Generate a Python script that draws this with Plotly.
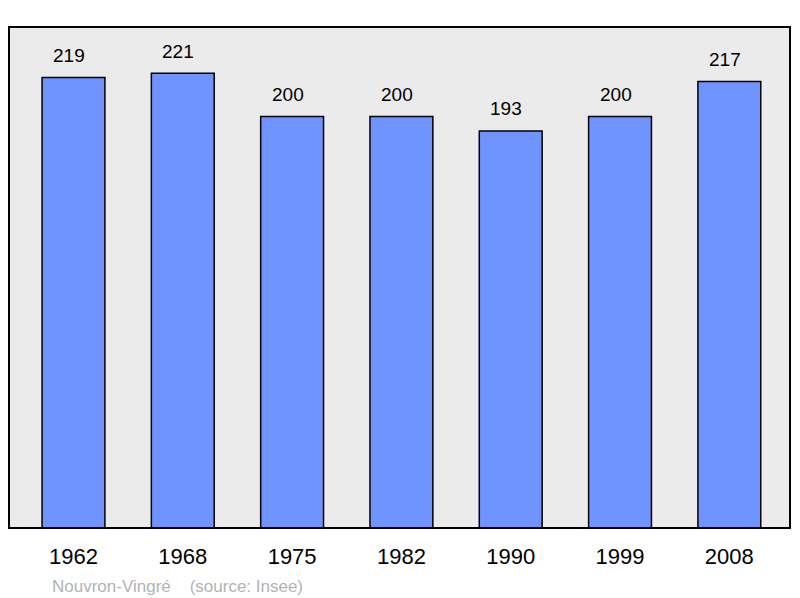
import plotly.graph_objects as go

years = ["1962", "1968", "1975", "1982", "1990", "1999", "2008"]
population = [219, 221, 200, 200, 193, 200, 217]
caption = "Nouvron-Vingré    (source: Insee)"

idx = list(range(len(years)))
FONT = "Liberation Sans, Arial, sans-serif"

fig = go.Figure()
fig.add_trace(go.Bar(
    x=idx, y=population, width=0.575,
    marker=dict(color="#7094ff", line=dict(color="#000000", width=1.5)),
    hoverinfo="skip",
))

for i, v in zip(idx, population):
    fig.add_annotation(x=i, y=v, text=str(v), showarrow=False, yanchor="middle",
                       yshift=22, xshift=-4.5, font=dict(family=FONT, size=19, color="#000"))

fig.add_annotation(xref="paper", yref="paper", x=0.0526, y=-0.117, xanchor="left", yanchor="middle",
                   text=caption.replace("    ", "&nbsp;&nbsp;&nbsp;&nbsp;"), showarrow=False,
                   font=dict(family=FONT, size=17, color="#b3b3b3"))

fig.add_shape(type="rect", xref="paper", yref="paper", x0=0, x1=1, y0=0, y1=1,
              line=dict(color="#000000", width=2), fillcolor="rgba(0,0,0,0)", layer="above")

fig.update_layout(
    width=800, height=598,
    margin=dict(l=9, r=10, t=27, b=70, pad=0),
    paper_bgcolor="#ffffff", plot_bgcolor="#ebebeb",
    showlegend=False,
    xaxis=dict(range=[-0.59, 6.555], tickvals=idx, ticktext=years, showgrid=False, zeroline=False,
               ticks="outside", ticklen=9, tickcolor="rgba(0,0,0,0)",
               tickfont=dict(family=FONT, size=22, color="#000")),
    yaxis=dict(range=[0, 243.5], showgrid=False, zeroline=False, showticklabels=False, ticks=""),
)

fig.write_html("out.html", config={"displayModeBar": False},
               post_script="document.body.style.margin='0';document.body.style.overflow='hidden';")
